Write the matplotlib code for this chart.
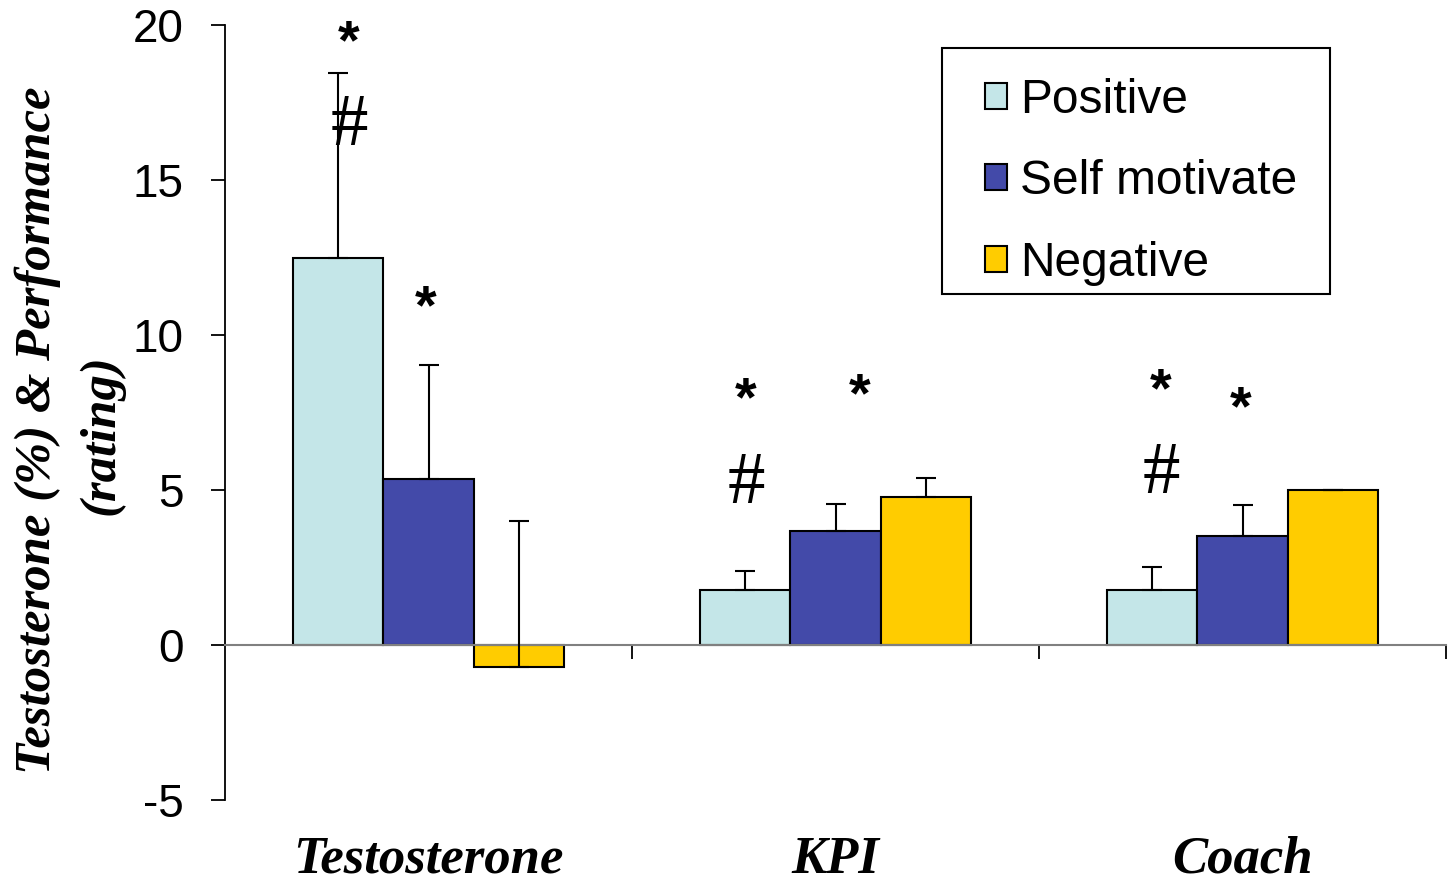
import matplotlib
matplotlib.use("Agg")
import matplotlib.pyplot as plt
from matplotlib.patches import Patch, Rectangle
import numpy as np

categories = ["Testosterone", "KPI", "Coach"]
series = ["Positive", "Self motivate", "Negative"]
positive = [12.5, 1.77, 1.77]
positive_top = [18.45, 2.39, 2.52]
self_motivate = [5.35, 3.68, 3.52]
self_motivate_top = [9.03, 4.56, 4.52]
negative = [-0.7, 4.77, 5.0]
negative_top = [4.0, 5.39, 5.0]
yticks = [-5, 0, 5, 10, 15, 20]

# significance marks
stars = [(-0.195, 19.7), (-0.006, 11.13), (0.78, 8.16), (1.06, 8.29), (1.80, 8.48), (1.995, 7.9)]
hashes = [(-0.195, 16.87), (0.78, 5.32), (1.80, 5.65)]

colors = ["#c4e6e8", "#434aa9", "#ffcc00"]
serif_bi = dict(family="Liberation Serif", style="italic", weight="bold")

fig = plt.figure(figsize=(14.49, 8.83), dpi=100)
ax = fig.add_axes([225 / 1449, 83 / 883, 1221 / 1449, 775 / 883])

x = np.arange(len(categories))
w = 0.2224
values = [positive, self_motivate, negative]
tops = [positive_top, self_motivate_top, negative_top]
for i in range(3):
    v = np.array(values[i])
    up = np.array(tops[i]) - v
    ax.bar(x + (i - 1) * w, v, w, color=colors[i], edgecolor="black", linewidth=1.5, zorder=2)
    ax.errorbar(x + (i - 1) * w, v, yerr=[np.zeros(3), up], fmt="none", ecolor="black",
                elinewidth=1.5, capsize=7, capthick=1.5, zorder=3)

ax.set_xlim(-0.5, 2.5)
ax.set_ylim(-5, 20)
ax.set_yticks(yticks)
ax.set_yticklabels([str(t) for t in yticks], fontsize=33, family="Liberation Sans")
ax.tick_params(axis="y", direction="out", length=10, width=1.3, pad=20)

ax.spines["top"].set_visible(False)
ax.spines["right"].set_visible(False)
ax.spines["left"].set_linewidth(1.3)
ax.spines["bottom"].set_position(("data", 0))
ax.spines["bottom"].set_color("#808080")
ax.spines["bottom"].set_linewidth(1.5)
ax.set_xticks([0.5, 1.5, 2.5])
ax.set_xticklabels([])
ax.tick_params(axis="x", direction="out", length=10, width=1.3, color="black")

for xi, name in zip(x, categories):
    ax.text(xi, -0.077, name, transform=ax.get_xaxis_transform(), ha="center", va="center",
            fontsize=38, **serif_bi)

for sx, sy in stars:
    ax.annotate("*", (sx, sy), xytext=(0, -7), textcoords="offset points",
                ha="center", va="center", fontsize=40, weight="bold", family="Liberation Sans")
for hx, hy in hashes:
    ax.annotate("#", (hx, hy), xytext=(0, -4), textcoords="offset points",
                ha="center", va="center", fontsize=54, family="Liberation Serif")

fig.text(38 / 1449, 1 - 430 / 883, "Testosterone (%) & Performance", rotation=90,
         ha="center", va="center", fontsize=36.5, **serif_bi)
fig.text(101 / 1449, 1 - 435 / 883, "(rating)", rotation=90,
         ha="center", va="center", fontsize=36.5, **serif_bi)

# legend with its own frame
fig.patches.append(Rectangle((942 / 1449, 1 - 294 / 883), 388 / 1449, 246 / 883,
                             transform=fig.transFigure, fill=False, edgecolor="black",
                             linewidth=1.5))
handles = [Patch(facecolor=c, edgecolor="black", linewidth=1.5) for c in colors]
fig.legend(handles, series, loc="upper left", bbox_to_anchor=(961 / 1449, 1 - 54 / 883),
           frameon=False, prop={"family": "Liberation Sans", "size": 34.5},
           handlelength=0.46, handleheight=0.46, handletextpad=0.28, labelspacing=0.76,
           borderpad=0.0)

fig.savefig("out.png", dpi=100)
